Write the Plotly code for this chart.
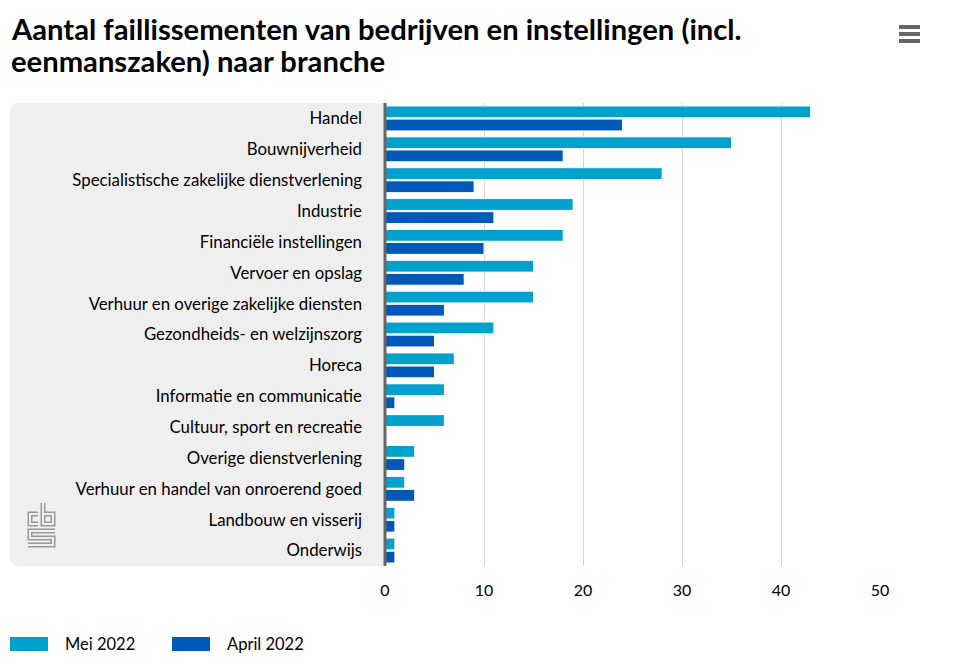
import plotly.graph_objects as go

categories = [
    "Handel", "Bouwnijverheid", "Specialistische zakelijke dienstverlening",
    "Industrie", "Financiële instellingen", "Vervoer en opslag",
    "Verhuur en overige zakelijke diensten", "Gezondheids- en welzijnszorg",
    "Horeca", "Informatie en communicatie", "Cultuur, sport en recreatie",
    "Overige dienstverlening", "Verhuur en handel van onroerend goed",
    "Landbouw en visserij", "Onderwijs",
]
mei_2022 = [43, 35, 28, 19, 18, 15, 15, 11, 7, 6, 6, 3, 2, 1, 1]
april_2022 = [24, 18, 9, 11, 10, 8, 6, 5, 5, 1, 0, 2, 3, 1, 1]
series_names = ["Mei 2022", "April 2022"]
series_colors = ["#00a1cd", "#0058b8"]
x_ticks = [0, 10, 20, 30, 40, 50]
title_lines = ["Aantal faillissementen van bedrijven en instellingen (incl.",
               "eenmanszaken) naar branche"]

# the page body adds an 8px margin; the figure is sized to fit inside it
OFF = 8
W, H = 954 - OFF, 670 - 2 * OFF
PLOT_X0, PLOT_X1, PLOT_Y0, PLOT_Y1 = 385, 880, 103, 566  # page pixels
L, T = PLOT_X0 - OFF, PLOT_Y0 - OFF
R, B = W - (PLOT_X1 - OFF), H - (PLOT_Y1 - OFF)
PW, PH = W - L - R, H - T - B
FONT = "Lato"


def px(x):
    return (x - OFF - L) / PW


def py(y):
    return (H - B - (y - OFF)) / PH


fig = go.Figure()
for name, vals, col in zip(series_names, [mei_2022, april_2022], series_colors):
    fig.add_trace(go.Bar(
        y=categories, x=vals, name=name, orientation="h",
        marker=dict(color=col, line=dict(color="white", width=1)),
        showlegend=False,
    ))

shapes = []
# grey label panel with rounded left corners
r = 9
x0, x1, y0, y1 = 10, 386, 103, 566
path = (f"M {px(x1)},{py(y0)} L {px(x0 + r)},{py(y0)} "
        f"Q {px(x0)},{py(y0)} {px(x0)},{py(y0 + r)} "
        f"L {px(x0)},{py(y1 - r)} Q {px(x0)},{py(y1)} {px(x0 + r)},{py(y1)} "
        f"L {px(x1)},{py(y1)} Z")
shapes.append(dict(type="path", xref="paper", yref="paper", path=path,
                   fillcolor="#efefef", line=dict(width=0), layer="below"))

# category axis line drawn on top of the bar starts (paper ref -> not clipped)
shapes.append(dict(type="line", xref="paper", yref="paper", x0=0, x1=0, y0=0, y1=1,
                   line=dict(color="#666666", width=3), layer="above"))


def poly(points):
    return "M " + " L ".join(f"{px(a)},{py(b)}" for a, b in points)


# CBS logo (outlined strokes)
logo_paths = [
    [(38, 514), (30, 514), (30, 524), (38, 524)],
    [(43, 503), (43, 524), (53, 524), (53, 514), (43, 514)],
    [(55, 531), (30, 531), (30, 538), (53, 538), (53, 545), (28, 545)],
]
for pts in logo_paths:
    shapes.append(dict(type="path", xref="paper", yref="paper", path=poly(pts),
                       line=dict(color="#9a9a9a", width=5), layer="below"))
for pts in logo_paths:
    shapes.append(dict(type="path", xref="paper", yref="paper", path=poly(pts),
                       line=dict(color="#efefef", width=2), layer="below"))

# hamburger menu
for yy in [27, 34, 41]:
    shapes.append(dict(type="line", xref="paper", yref="paper",
                       x0=px(899), x1=px(920), y0=py(yy), y1=py(yy),
                       line=dict(color="#666666", width=4)))

annotations = []
# title (two lines, tight leading)
for i, line in enumerate(title_lines):
    annotations.append(dict(xref="paper", yref="paper", x=px(9), y=py(29 + 31 * i),
                            xanchor="left", yanchor="middle", showarrow=False,
                            text=f"<b>{line}</b>",
                            font=dict(family=FONT, size=29.2, color="#000")))

# legend swatches
legend_x = [10, 172]
for lx, name, col in zip(legend_x, series_names, series_colors):
    shapes.append(dict(type="rect", xref="paper", yref="paper",
                       x0=px(lx), x1=px(lx + 38), y0=py(651), y1=py(637),
                       fillcolor=col, line=dict(width=0)))
    annotations.append(dict(xref="paper", yref="paper", x=px(lx + 53), y=py(644),
                            xanchor="left", yanchor="middle", showarrow=False,
                            text=name, font=dict(family=FONT, size=16.5, color="#000")))

fig.update_layout(
    width=W, height=H,
    margin=dict(l=L, r=R, t=T, b=B),
    paper_bgcolor="white", plot_bgcolor="rgba(0,0,0,0)",
    barmode="group", bargap=0.15, bargroupgap=0.1,
    font=dict(family=FONT, size=16.5, color="#000"),
    xaxis=dict(range=[0, 50], tickvals=x_ticks, showgrid=True, gridcolor="#d3d3d3",
               gridwidth=1, zeroline=False,
               ticks="", ticklabelstandoff=13, tickfont=dict(size=16), fixedrange=True),
    yaxis=dict(autorange="reversed", showgrid=False, ticks="", ticklabelstandoff=22,
               tickfont=dict(size=16.8), fixedrange=True),
    shapes=shapes, annotations=annotations,
)

fig.write_html("out.html")
